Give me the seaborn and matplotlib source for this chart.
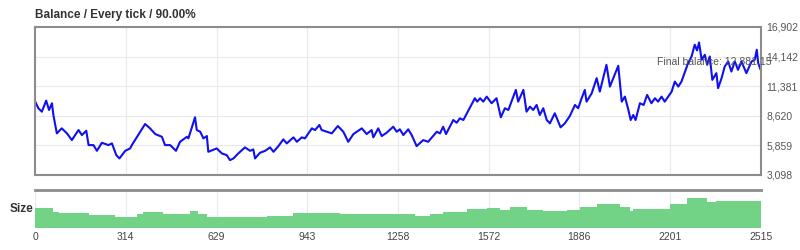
#%%
'''PACKAGE IMPORTS'''
import pandas as pd
import matplotlib
matplotlib.use('Agg')
import matplotlib.pyplot as plt
import numpy as np
import seaborn as sns

# %%
'''Data read off the report'''
tick = [0, 11, 23, 38, 48, 58, 63, 75, 92, 110, 127, 150, 162, 177, 185, 202,
        214, 231, 254, 266, 281, 292, 312, 329, 335, 381, 398, 416, 439, 450,
        468, 488, 502, 526, 531, 554, 560, 572, 583, 595, 600, 617, 629, 647,
        664, 675, 687, 704, 727, 745, 756, 762, 779, 797, 814, 826, 843, 860,
        872, 895, 907, 924, 935, 959, 970, 985, 993, 1011, 1028, 1049, 1068,
        1085, 1103, 1132, 1149, 1166, 1172, 1189, 1201, 1218, 1241, 1253, 1264,
        1276, 1293, 1305, 1322, 1345, 1362, 1392, 1403, 1414, 1424, 1449, 1461,
        1472, 1484, 1524, 1532, 1542, 1553, 1565, 1582, 1599, 1614, 1628, 1640,
        1666, 1674, 1692, 1703, 1715, 1726, 1738, 1749, 1761, 1773, 1784, 1801,
        1821, 1836, 1853, 1871, 1882, 1894, 1905, 1911, 1929, 1946, 1957, 1980,
        1992, 2021, 2033, 2044, 2056, 2064, 2073, 2081, 2096, 2109, 2121, 2136,
        2148, 2159, 2171, 2182, 2194, 2206, 2217, 2229, 2240, 2263, 2275, 2286,
        2294, 2301, 2310, 2321, 2329, 2338, 2347, 2361, 2367, 2379, 2390, 2402,
        2413, 2425, 2436, 2448, 2465, 2483, 2494, 2501, 2506, 2515]
balance = [9940, 9322, 9004, 10034, 9163, 9790, 8695, 6982, 7450, 6982, 6355,
           7291, 6823, 7225, 5887, 5887, 5354, 6103, 5887, 6046, 4951, 4642,
           5354, 5578, 5887, 7853, 7450, 6917, 6664, 5887, 5887, 5354, 6196,
           6664, 6514, 8480, 7291, 7132, 6514, 6730, 5260, 5450, 5578, 5110,
           4951, 4483, 4642, 5110, 5672, 5354, 5485, 4642, 5167, 5354, 5672,
           5260, 5794, 6421, 6046, 6608, 6196, 6608, 6514, 7450, 7291, 7759,
           7291, 7132, 6982, 7666, 7132, 6196, 6917, 7450, 6917, 7291, 6608,
           7450, 6730, 7038, 7600, 7132, 7357, 6823, 7357, 6823, 5794, 6355,
           6196, 7132, 6982, 7600, 6917, 8227, 7975, 8386, 8227, 10258, 9940,
           10258, 9940, 10408, 9790, 10258, 8480, 9322, 9163, 11035, 9940,
           11035, 9004, 9472, 9163, 9631, 8695, 9322, 8227, 7918, 8855, 7544,
           7918, 8600, 9631, 9322, 10258, 11035, 9940, 10726, 12130, 10876,
           13375, 11344, 13282, 9940, 10408, 9163, 8227, 8695, 8227, 9790, 9631,
           10567, 9790, 10258, 9940, 10408, 9940, 10408, 10876, 11812, 11344,
           11812, 13534, 14152, 15247, 14714, 15463, 13843, 14311, 13375, 14152,
           11971, 12598, 11194, 12130, 13216, 13684, 12748, 13684, 12907, 13684,
           12598, 13684, 13843, 14779, 13534, 12881]

size_tick = [0, 63, 81, 127, 185, 277, 352, 375, 444, 514, 537, 566, 595, 675,
             803, 895, 1045, 1057, 1264, 1316, 1368, 1414, 1495, 1565, 1611,
             1645, 1703, 1761, 1842, 1888, 1946, 2027, 2061, 2073, 2200, 2258,
             2327, 2361, 2515]
size = [0.51, 0.42, 0.39, 0.375, 0.34, 0.27, 0.35, 0.41, 0.35, 0.37, 0.44, 0.37,
        0.27, 0.28, 0.31, 0.375, 0.39, 0.36, 0.36, 0.32, 0.35, 0.41, 0.50, 0.51,
        0.47, 0.55, 0.48, 0.43, 0.47, 0.55, 0.64, 0.55, 0.45, 0.50, 0.62, 0.78,
        0.69, 0.71, 0.74]

xticks = [0, 314, 629, 943, 1258, 1572, 1886, 2201, 2515]
yticks = [3098, 5859, 8620, 11381, 14142, 16902]
title = 'Balance / Every tick / 90.00%'
finalLabel = 'Final balance: 12,881.15'

balDF = pd.DataFrame({'tick': tick, 'balance': balance})
sizeDF = pd.DataFrame({'tick': size_tick, 'size': size})

# %%
'''Figure'''
sns.set_style('white')
plt.rcParams['font.family'] = ['Liberation Sans', 'DejaVu Sans']

fig = plt.figure(figsize = (8, 2.5), dpi = 100)
ax = fig.add_axes([0.044, 0.30, 0.907, 0.592])
ax2 = fig.add_axes([0.044, 0.09, 0.907, 0.15], sharex = ax)

gridCol = '#e6e8f0'
spineCol = '#8c8c8c'

#Balance line
sns.lineplot(data = balDF, x = 'tick', y = 'balance', ax = ax,
             color = '#1010f0', linewidth = 1.5, estimator = None)
ax.set_xlim(0, 2515)
ax.set_ylim(3098, 16902)
ax.set_yticks(yticks)
ax.set_yticklabels([f'{v:,}' for v in yticks])
ax.set_xticks(xticks)
ax.yaxis.tick_right()
ax.tick_params(axis = 'y', length = 0, labelsize = 7.5, colors = '#555555', pad = 4)
ax.tick_params(axis = 'x', length = 0, labelbottom = False)
ax.grid(True, color = gridCol, linewidth = 0.8)
ax.set_axisbelow(True)
for s in ax.spines.values():
    s.set_color(spineCol)
    s.set_linewidth(1.5)
ax.set_xlabel('')
ax.set_ylabel('')
ax.text(2155, 13656, finalLabel, fontsize = 7.5, color = '#555555',
        va = 'center', ha = 'left')

#Size panel
ax2.fill_between(sizeDF['tick'], 0, sizeDF['size'], step = 'post',
                 color = '#72d386', linewidth = 0)
ax2.set_ylim(0, 1)
ax2.set_yticks([])
ax2.set_xticks(xticks)
ax2.set_xticklabels([str(v) for v in xticks])
ax2.tick_params(axis = 'x', length = 0, labelsize = 7.5, colors = '#444444', pad = 3)
ax2.grid(True, axis = 'x', color = gridCol, linewidth = 0.8)
ax2.set_axisbelow(True)
for k in ['left', 'right', 'bottom']:
    ax2.spines[k].set_visible(False)
ax2.spines['top'].set_color(spineCol)
ax2.spines['top'].set_linewidth(2)

#Labels
fig.text(0.044, 0.94, title, fontsize = 8.5, fontweight = 'bold',
         color = '#333333', ha = 'left', va = 'center')
fig.text(0.012, 0.165, 'Size', fontsize = 8.5, fontweight = 'bold',
         color = '#333333', ha = 'left', va = 'center')

plt.savefig('out.png', dpi = 100)
